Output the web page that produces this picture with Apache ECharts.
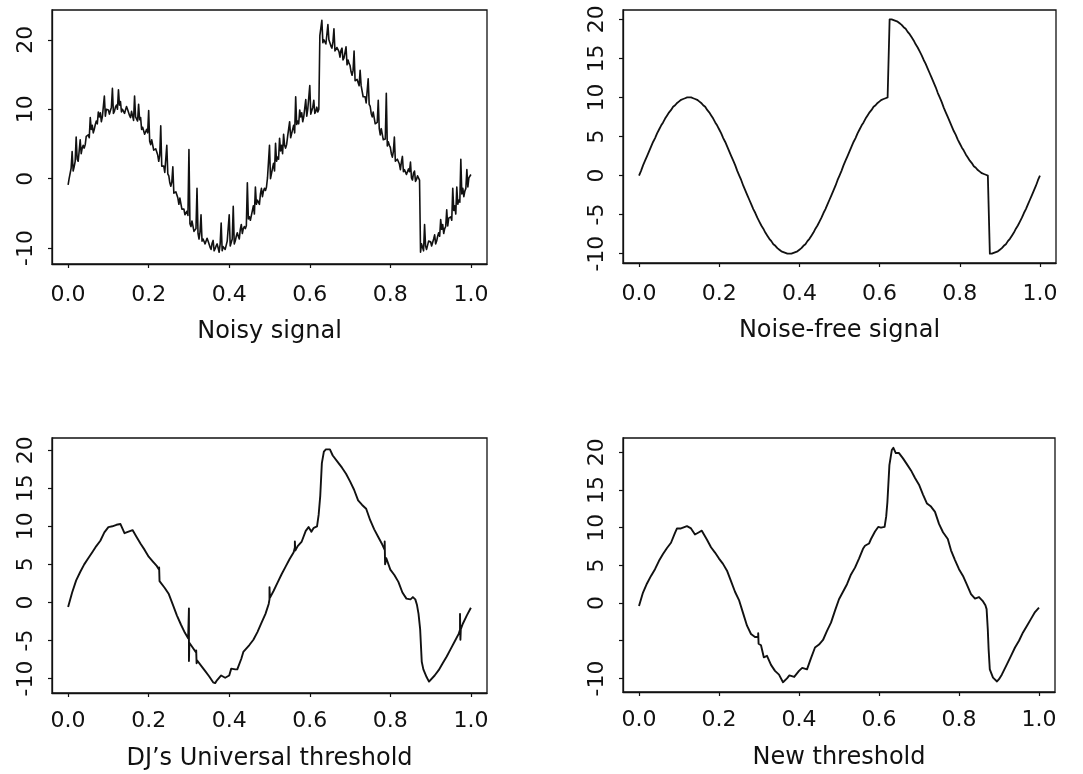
<!DOCTYPE html>
<html>
<head>
<meta charset="utf-8">
<title>Wavelet thresholding</title>
<script src="https://cdn.jsdelivr.net/npm/echarts@6/dist/echarts.min.js"></script>
<style>
  html, body { margin: 0; padding: 0; background: #fff; }
  #chart { width: 1083px; height: 774px; }
</style>
</head>
<body>
<div id="chart"></div>
<script>
// Sampling steps (t = k * step)
const NOISY_STEP = 0.0025;   // 401 observations
const CLEAN_STEP = 0.005;    // 201 samples

// Noisy observations on [0, 1]
const noisySignal = [
  -0.9, 0.0, 0.1, 1.5, 3.9, 1.1, 1.7, 2.5, 6.0, 2.8, 2.5, 4.0, 5.6, 3.6, 4.4, 4.8, 4.4, 4.9, 6.1, 6.0,
  6.3, 5.9, 8.8, 7.1, 7.7, 6.6, 7.1, 7.8, 8.3, 7.9, 9.6, 8.9, 9.5, 8.2, 8.9, 9.1, 11.9, 9.0, 10.0, 9.8,
  9.9, 9.3, 9.2, 10.3, 13.0, 9.4, 9.7, 10.3, 10.6, 10.0, 12.8, 10.6, 11.1, 9.6, 10.0, 10.1, 9.4, 9.6, 10.4, 10.0,
  9.9, 9.1, 8.8, 9.7, 9.9, 8.4, 11.9, 8.9, 9.0, 8.3, 10.7, 8.5, 8.8, 7.1, 7.4, 7.3, 6.4, 6.4, 7.1, 6.6,
  9.8, 5.4, 4.9, 5.6, 5.7, 4.1, 4.1, 4.3, 4.3, 3.4, 2.5, 3.4, 7.6, 1.8, 2.0, 1.8, 0.9, 0.8, 4.8, 0.7,
  0.4, -0.6, -1.1, -0.5, 1.7, -2.1, -2.1, -1.9, -1.9, -2.8, -3.7, -2.8, -2.6, -4.4, -4.2, -4.4, -5.2, -5.3, -4.7, -5.3,
  4.2, -6.5, -6.9, -6.1, -5.9, -7.6, -7.5, -7.2, -1.4, -7.9, -8.7, -7.7, -5.2, -9.0, -8.7, -8.7, -9.4, -9.4, -8.6, -9.0,
  -9.1, -9.9, -10.2, -9.3, -8.9, -10.4, -10.1, -9.7, -9.4, -10.0, -10.6, -9.4, -6.4, -10.4, -9.8, -9.7, -10.2, -10.0, -9.0, -9.2,
  -5.2, -9.7, -9.8, -8.7, -4.0, -9.4, -9.0, -8.3, -7.8, -8.3, -8.7, -7.3, -6.6, -7.9, -7.2, -6.9, -7.2, -6.8, -0.6, -5.8,
  -5.5, -6.0, -5.9, -4.6, -3.9, -5.1, -1.2, -3.7, -3.1, -3.4, -3.7, -2.2, -1.4, -2.6, -1.8, -1.4, -1.7, -1.2, 0.1, 0.1,
  4.8, 0.0, 0.1, 1.5, 2.2, 1.1, 5.1, 2.5, 3.1, 2.8, 5.8, 4.0, 4.8, 3.6, 6.4, 4.8, 4.4, 4.9, 6.1, 6.0,
  8.2, 5.9, 5.9, 7.1, 7.7, 6.6, 11.8, 7.8, 8.3, 7.9, 9.9, 8.9, 9.5, 8.2, 8.9, 9.1, 11.4, 9.0, 10.0, 9.8,
  13.4, 9.3, 9.2, 10.3, 11.3, 9.4, 9.7, 10.3, 9.6, 10.0, 20.6, 20.6, 22.8, 19.6, 20.0, 20.1, 19.4, 19.6, 22.2, 20.0,
  19.9, 19.1, 18.8, 19.7, 21.6, 18.4, 18.6, 18.9, 19.0, 18.3, 17.5, 18.5, 18.8, 17.1, 17.4, 17.3, 19.0, 16.4, 17.1, 16.6,
  16.3, 15.4, 14.9, 15.6, 18.4, 14.1, 14.1, 14.3, 14.3, 13.4, 15.6, 13.4, 13.6, 11.8, 12.0, 11.8, 10.9, 10.8, 14.4, 10.7,
  10.4, 9.4, 8.9, 9.6, 9.6, 7.9, 7.9, 8.1, 11.3, 7.2, 6.3, 7.2, 7.4, 5.6, 5.8, 5.7, 12.3, 4.7, 5.3, 4.8,
  4.5, 3.6, 3.1, 3.9, 6.0, 2.5, 2.5, 2.8, 2.9, 2.1, 1.3, 2.4, 3.2, 1.0, 1.3, 1.3, 0.6, 0.7, 1.4, 1.0,
  2.4, 0.1, -0.2, 0.8, 1.1, -0.4, -0.1, 0.4, 0.3, -0.2, -10.6, -9.4, -9.4, -10.4, -6.6, -9.7, -10.2, -10.0, -9.0, -9.2,
  -9.1, -9.7, -9.8, -8.7, -8.1, -9.4, -9.0, -8.3, -7.8, -8.3, -5.9, -7.3, -6.6, -7.9, -7.2, -6.9, -4.5, -6.8, -5.7, -5.8,
  -5.5, -6.0, -1.4, -4.6, -3.9, -5.1, -1.2, -3.7, -3.1, -3.4, 2.8, -2.2, -1.4, -2.6, -1.8, -1.4, 1.3, -1.2, 0.1, 0.1,
  0.6
];

// Underlying noise-free signal
const cleanSignal = [
  0, 0.6, 1.3, 1.9, 2.5, 3.1, 3.7, 4.3, 4.8, 5.4,
  5.9, 6.4, 6.8, 7.3, 7.7, 8.1, 8.4, 8.8, 9.0, 9.3,
  9.5, 9.7, 9.8, 9.9, 10.0, 10.0, 10.0, 9.9, 9.8, 9.7,
  9.5, 9.3, 9.0, 8.8, 8.4, 8.1, 7.7, 7.3, 6.8, 6.4,
  5.9, 5.4, 4.8, 4.3, 3.7, 3.1, 2.5, 1.9, 1.3, 0.6,
  0, -0.6, -1.3, -1.9, -2.5, -3.1, -3.7, -4.3, -4.8, -5.4,
  -5.9, -6.4, -6.8, -7.3, -7.7, -8.1, -8.4, -8.8, -9.0, -9.3,
  -9.5, -9.7, -9.8, -9.9, -10.0, -10.0, -10.0, -9.9, -9.8, -9.7,
  -9.5, -9.3, -9.0, -8.8, -8.4, -8.1, -7.7, -7.3, -6.8, -6.4,
  -5.9, -5.4, -4.8, -4.3, -3.7, -3.1, -2.5, -1.9, -1.3, -0.6,
  0, 0.6, 1.3, 1.9, 2.5, 3.1, 3.7, 4.3, 4.8, 5.4,
  5.9, 6.4, 6.8, 7.3, 7.7, 8.1, 8.4, 8.8, 9.0, 9.3,
  9.5, 9.7, 9.8, 9.9, 10.0, 20.0, 20.0, 19.9, 19.8, 19.7,
  19.5, 19.3, 19.0, 18.8, 18.4, 18.1, 17.7, 17.3, 16.8, 16.4,
  15.9, 15.4, 14.8, 14.3, 13.7, 13.1, 12.5, 11.9, 11.3, 10.6,
  10.0, 9.4, 8.7, 8.1, 7.5, 6.9, 6.3, 5.7, 5.2, 4.6,
  4.1, 3.6, 3.2, 2.7, 2.3, 1.9, 1.6, 1.2, 1.0, 0.7,
  0.5, 0.3, 0.2, 0.1, 0.0, -10.0, -10.0, -9.9, -9.8, -9.7,
  -9.5, -9.3, -9.0, -8.8, -8.4, -8.1, -7.7, -7.3, -6.8, -6.4,
  -5.9, -5.4, -4.8, -4.3, -3.7, -3.1, -2.5, -1.9, -1.3, -0.6,
  0
];

// Reconstruction with the universal threshold, as [t, value] points
const universalEstimate = [
  [0, -0.6], [0.01, 1.3], [0.02, 2.9], [0.03, 4.0], [0.04, 5.0], [0.05, 5.8],
  [0.06, 6.6], [0.07, 7.4], [0.08, 8.1], [0.09, 9.2], [0.10, 9.9], [0.11, 10.0],
  [0.12, 10.2], [0.13, 10.3], [0.14, 9.1], [0.15, 9.3], [0.16, 9.5], [0.17, 8.6],
  [0.18, 7.7], [0.19, 6.9], [0.20, 6.0], [0.21, 5.4], [0.22, 4.8],
  [0.226, 4.3], [0.226, 4.6], [0.227, 2.8], [0.23, 3.0], [0.24, 1.9], [0.25, 1.1],
  [0.26, -0.3], [0.27, -1.7], [0.28, -2.9], [0.29, -4.0], [0.298, -4.7],
  [0.3, -0.8], [0.3, -7.7], [0.301, -5.3], [0.31, -6.0], [0.318, -6.6],
  [0.318, -6.3], [0.319, -8.0], [0.32, -7.6], [0.33, -8.3], [0.34, -9.0],
  [0.35, -9.7], [0.36, -10.5], [0.365, -10.6], [0.37, -10.2], [0.38, -9.6],
  [0.39, -9.9], [0.40, -9.6], [0.405, -8.7], [0.415, -8.8], [0.42, -8.8],
  [0.43, -7.4], [0.435, -6.5], [0.44, -6.2], [0.45, -5.6], [0.46, -4.9],
  [0.47, -3.9], [0.48, -2.7], [0.49, -1.5], [0.498, -0.2], [0.5, 0.4],
  [0.5, 2.0], [0.501, 0.6], [0.51, 1.5], [0.52, 2.6], [0.53, 3.7], [0.54, 4.7],
  [0.55, 5.7], [0.56, 6.6], [0.563, 7.2], [0.563, 8.0], [0.564, 6.8],
  [0.57, 7.4], [0.58, 8.0], [0.59, 9.4], [0.597, 9.9], [0.604, 9.3],
  [0.61, 9.8], [0.618, 10.0], [0.622, 11.5], [0.626, 14.0], [0.63, 18.3],
  [0.635, 19.8], [0.64, 20.1], [0.65, 20.1], [0.657, 19.3], [0.67, 18.4],
  [0.68, 17.7], [0.69, 16.9], [0.70, 15.9], [0.71, 14.8], [0.72, 13.4],
  [0.73, 12.8], [0.74, 12.3], [0.75, 10.8], [0.76, 9.6], [0.77, 8.6],
  [0.78, 7.6], [0.786, 6.9], [0.786, 8.0], [0.787, 5.0], [0.79, 5.8],
  [0.80, 4.3], [0.81, 3.6], [0.82, 2.7], [0.83, 1.3], [0.84, 0.5],
  [0.85, 0.4], [0.856, 0.7], [0.862, 0.4], [0.866, -0.3], [0.87, -1.5],
  [0.874, -3.5], [0.878, -7.8], [0.882, -8.8], [0.886, -9.0], [0.89, -9.8],
  [0.896, -10.4], [0.90, -10.3], [0.91, -9.6], [0.92, -8.9], [0.93, -8.0],
  [0.94, -7.1], [0.95, -6.1], [0.96, -5.1], [0.97, -4.1], [0.973, -3.6],
  [0.973, -1.5], [0.974, -4.9], [0.975, -3.5], [0.98, -2.8], [0.99, -1.7],
  [1.0, -0.7]
];

// Reconstruction with the new threshold, as [t, value] points
const newEstimate = [
  [0, -0.4], [0.01, 1.4], [0.02, 2.6], [0.03, 3.6], [0.04, 4.5], [0.05, 5.6],
  [0.06, 6.5], [0.07, 7.3], [0.08, 8.0], [0.09, 9.3], [0.095, 9.9], [0.105, 9.9],
  [0.11, 10.1], [0.12, 10.2], [0.125, 10.4], [0.13, 9.9], [0.14, 9.1],
  [0.15, 9.4], [0.157, 9.6], [0.17, 8.4], [0.18, 7.4], [0.19, 6.7], [0.20, 5.9],
  [0.21, 5.2], [0.22, 4.3], [0.23, 2.9], [0.24, 1.5], [0.25, 0.4], [0.26, -1.3],
  [0.27, -3.0], [0.28, -4.1], [0.29, -4.5], [0.298, -4.5], [0.298, -4.0],
  [0.299, -5.4], [0.305, -5.6], [0.312, -7.2], [0.32, -7.0], [0.33, -8.2],
  [0.34, -9.0], [0.35, -9.5], [0.36, -10.5], [0.37, -10.0], [0.376, -9.6],
  [0.388, -9.8], [0.40, -9.0], [0.408, -8.6], [0.42, -8.8], [0.43, -7.3],
  [0.44, -5.9], [0.45, -5.5], [0.46, -4.9], [0.47, -3.7], [0.48, -2.6],
  [0.49, -1.0], [0.50, 0.5], [0.51, 1.5], [0.52, 2.5], [0.53, 3.8], [0.54, 4.7],
  [0.55, 5.9], [0.56, 7.2], [0.565, 7.6], [0.575, 7.9], [0.58, 8.5], [0.59, 9.5],
  [0.598, 10.1], [0.605, 10.0], [0.614, 10.1], [0.618, 11.5], [0.621, 13.4],
  [0.626, 18.3], [0.632, 20.3], [0.636, 20.6], [0.642, 19.9], [0.65, 19.9],
  [0.66, 19.2], [0.67, 18.4], [0.68, 17.6], [0.69, 16.6], [0.70, 15.7],
  [0.71, 14.4], [0.72, 13.2], [0.73, 12.8], [0.74, 12.1], [0.75, 10.5],
  [0.76, 9.4], [0.768, 8.8], [0.772, 8.5], [0.78, 7.0], [0.79, 5.7], [0.80, 4.5],
  [0.81, 3.6], [0.82, 2.4], [0.83, 1.2], [0.84, 0.6], [0.85, 0.8], [0.859, 0.3],
  [0.866, -0.3], [0.869, -0.8], [0.872, -3.5], [0.874, -6.1], [0.877, -8.8],
  [0.885, -9.9], [0.895, -10.4], [0.90, -10.1], [0.907, -9.5], [0.92, -8.1],
  [0.93, -7.0], [0.94, -5.9], [0.95, -5.0], [0.96, -3.9], [0.97, -3.0],
  [0.98, -2.1], [0.99, -1.2], [1.0, -0.6]
];

// Tick positions and labels
const xTicks = [0, 0.2, 0.4, 0.6, 0.8, 1.0];
const yTicksTen = [-10, 0, 10, 20];
const yTicksFive = [-10, -5, 0, 5, 10, 15, 20];
const yLabelsNew = [-10, 0, 5, 10, 15, 20];

// Panel captions
const captions = ['Noisy signal', 'Noise-free signal', "DJ\u2019s Universal threshold", 'New threshold'];

const FONT = 'DejaVu Sans';
const INK = '#111';

const onGrid = (values, step) => values.map((v, k) => [k * step, v]);

const panels = [
  { grid: { left: 52, top: 10, width: 435, height: 254 }, yMin: -12.3, yMax: 24.3,
    yTicks: yTicksTen, yLabels: yTicksTen, data: onGrid(noisySignal, NOISY_STEP), width: 1.6,
    labelGap: 20, nameGap: 56 },
  { grid: { left: 623, top: 10, width: 433, height: 253 }, yMin: -11.2, yMax: 21.2,
    yTicks: yTicksFive, yLabels: yTicksFive, data: onGrid(cleanSignal, CLEAN_STEP), width: 1.8,
    labelGap: 20, nameGap: 56 },
  { grid: { left: 52, top: 438, width: 435, height: 255 }, yMin: -11.9, yMax: 21.6,
    yTicks: yTicksFive, yLabels: yTicksFive, data: universalEstimate, width: 1.9,
    labelGap: 17, nameGap: 54 },
  { grid: { left: 623, top: 438, width: 432, height: 254 }, yMin: -11.8, yMax: 21.9,
    yTicks: yTicksFive, yLabels: yLabelsNew, data: newEstimate, width: 1.9,
    labelGap: 17, nameGap: 54 }
];

const chart = echarts.init(document.getElementById('chart'), null, { renderer: 'canvas' });

const option = {
  backgroundColor: '#fff',
  animation: false,
  grid: panels.map(p => Object.assign({
    show: true, borderColor: INK, borderWidth: 1.3, backgroundColor: 'transparent'
  }, p.grid)),
  xAxis: panels.map((p, i) => ({
    type: 'value', gridIndex: i, min: -0.04, max: 1.04,
    name: captions[i], nameLocation: 'middle', nameGap: p.nameGap,
    nameTextStyle: { fontFamily: FONT, fontSize: 24, color: INK },
    axisLine: { show: true, onZero: false, lineStyle: { color: INK, width: 1.3 } },
    axisTick: { show: true, length: 4, customValues: xTicks, lineStyle: { color: INK, width: 1.2 } },
    axisLabel: { customValues: xTicks, margin: p.labelGap, fontFamily: FONT, fontSize: 22, color: INK,
      formatter: v => v.toFixed(1) },
    splitLine: { show: false }
  })),
  yAxis: panels.map((p, i) => ({
    type: 'value', gridIndex: i, min: p.yMin, max: p.yMax,
    axisLine: { show: true, onZero: false, lineStyle: { color: INK, width: 1.3 } },
    axisTick: { show: true, length: 4, customValues: p.yTicks, lineStyle: { color: INK, width: 1.2 } },
    axisLabel: { customValues: p.yLabels, rotate: 90, margin: 15, fontFamily: FONT, fontSize: 22, color: INK,
      formatter: v => String(v) },
    splitLine: { show: false }
  })),
  series: panels.map((p, i) => ({
    type: 'line', xAxisIndex: i, yAxisIndex: i, data: p.data,
    showSymbol: false, symbol: 'none', smooth: false,
    lineStyle: { color: INK, width: p.width, join: 'round' },
    silent: true
  }))
};

chart.setOption(option);
</script>
</body>
</html>
